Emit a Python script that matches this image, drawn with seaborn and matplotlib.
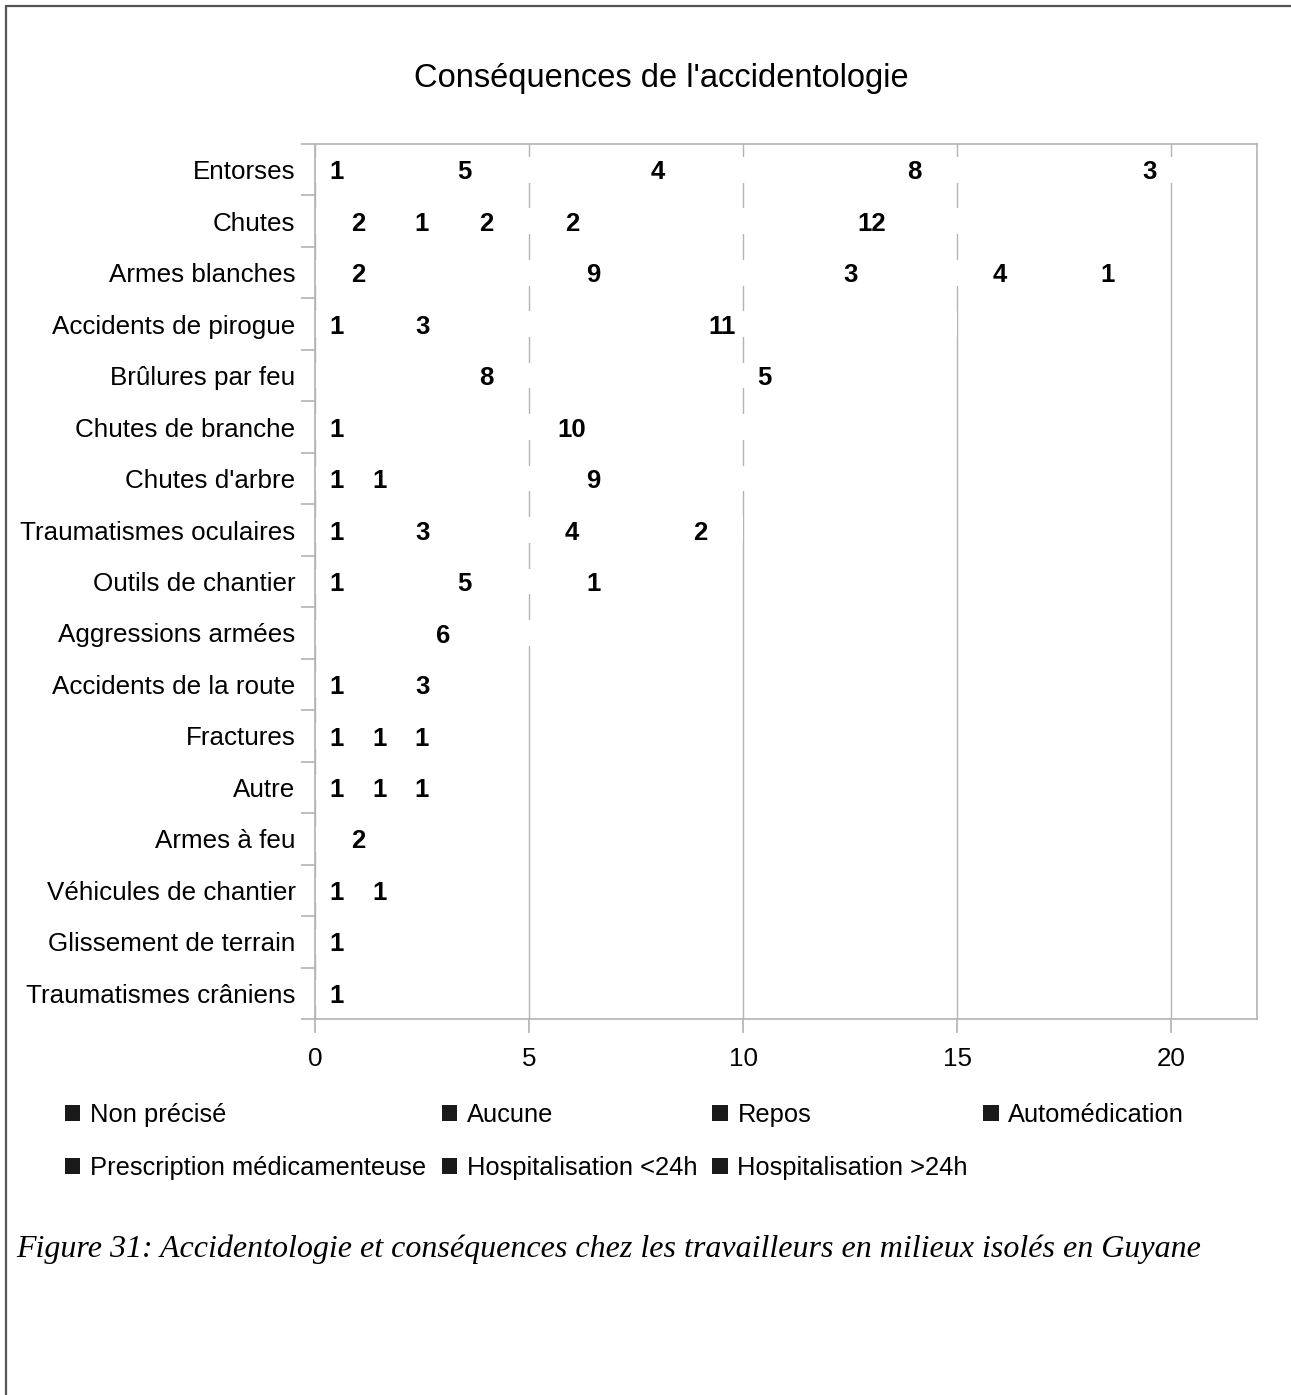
import numpy as np
import pandas as pd
import matplotlib.pyplot as plt
from matplotlib.lines import Line2D
from matplotlib.patches import Patch
import seaborn as sns

sns.set_theme(style="white")
plt.rcParams['font.family'] = ['Liberation Sans', 'DejaVu Sans']
plt.rcParams['text.color'] = 'black'
plt.rcParams['xtick.color'] = 'black'
plt.rcParams['ytick.color'] = 'black'

# categories (top to bottom)
categories = ["Entorses", "Chutes", "Armes blanches", "Accidents de pirogue",
              "Brûlures par feu", "Chutes de branche", "Chutes d'arbre",
              "Traumatismes oculaires", "Outils de chantier", "Aggressions armées",
              "Accidents de la route", "Fractures", "Autre", "Armes à feu",
              "Véhicules de chantier", "Glissement de terrain",
              "Traumatismes crâniens"]

series_names = ["Non précisé", "Aucune", "Repos", "Automédication",
                "Prescription médicamenteuse", "Hospitalisation <24h",
                "Hospitalisation >24h"]

non_precise = [1, 2, 2, 1, 0, 1, 1, 1, 1, 0, 1, 1, 1, 0, 1, 1, 0]
aucune      = [5, 1, 0, 3, 0, 0, 1, 3, 0, 0, 0, 0, 1, 0, 0, 0, 0]
repos       = [4, 2, 9, 11, 8, 10, 9, 4, 5, 6, 3, 1, 1, 0, 1, 0, 0]
automedic   = [8, 2, 3, 0, 5, 0, 0, 2, 1, 0, 0, 0, 0, 0, 0, 0, 0]
prescript   = [3, 12, 4, 0, 0, 0, 0, 0, 0, 0, 0, 0, 0, 0, 0, 0, 0]
hosp_moins  = [0, 0, 1, 0, 0, 0, 0, 0, 0, 0, 0, 1, 0, 0, 0, 0, 0]
hosp_plus   = [0, 0, 0, 0, 0, 0, 0, 0, 0, 0, 0, 0, 0, 2, 0, 0, 1]

x_ticks = [0, 5, 10, 15, 20]

values = np.array([non_precise, aucune, repos, automedic, prescript,
                   hosp_moins, hosp_plus]).T
cum = values.cumsum(axis=1)
left = cum - values

fig = plt.figure(figsize=(12.91, 13.95), dpi=100)
ax = fig.add_axes([0.244, 0.2695, 0.7297, 0.6273])

# stacked bars: draw cumulative totals from the longest down
for k in range(len(series_names) - 1, -1, -1):
    df = pd.DataFrame({"cat": categories, "val": cum[:, k]})
    sns.barplot(data=df, x="val", y="cat", color="white", saturation=1,
                width=0.5, linewidth=0, orient="y", ax=ax)

# value labels centred in segments
for i in range(len(categories)):
    for k in range(len(series_names)):
        v = values[i, k]
        if v > 0:
            ax.text(left[i, k] + v / 2, i + 0.05, str(v), ha="center",
                    va="center", fontsize=18.5, fontweight="bold",
                    color="black", zorder=5)

grey = "#b3b3b3"
ax.set_xlim(0, 22)
ax.set_ylim(len(categories) - 0.5, -0.5)
ax.set_xticks(x_ticks)
ax.set_xticklabels([str(t) for t in x_ticks])
ax.xaxis.grid(True, color=grey, lw=1)
ax.yaxis.grid(False)
ax.set_axisbelow(True)
ax.set_xlabel("")
ax.set_ylabel("")
for s in ax.spines.values():
    s.set_color(grey)
    s.set_linewidth(1.2)
    s.set_visible(True)
ax.tick_params(axis="x", which="major", length=10, width=1.2, color=grey,
               labelcolor="black", labelsize=18.7, pad=10, direction="out",
               bottom=True)
ax.tick_params(axis="y", which="major", length=0, labelsize=18.7,
               labelcolor="black", pad=14)
ax.set_yticks(np.arange(-0.5, len(categories)), minor=True)
ax.tick_params(axis="y", which="minor", length=10, width=1.2, color=grey,
               direction="out", left=True)

# title
fig.text(661 / 1291, 1 - 79 / 1395, "Conséquences de l'accidentologie",
         ha="center", va="center", fontsize=23.5, color="black")

# legend (column-major order to get row-wise reading)
order = [0, 4, 1, 5, 2, 6, 3]
handles = [Patch(facecolor="#1a1a1a", edgecolor="none") for _ in order]
labels = [series_names[j] for j in order]
fig.legend(handles, labels, ncol=4, loc="upper left",
           bbox_to_anchor=(65 / 1291, 1 - 1103 / 1395), frameon=False,
           fontsize=18.4, handlelength=0.6, handleheight=0.6,
           handletextpad=0.38, columnspacing=0.6, labelspacing=1.12,
           borderaxespad=0, borderpad=0)

# caption
fig.text(16 / 1291, 1 - 1249 / 1395,
         "Figure 31: Accidentologie et conséquences chez les travailleurs en milieux isolés en Guyane",
         ha="left", va="center", fontsize=23, style="italic", color="black",
         family=["Liberation Serif", "DejaVu Serif"])

# page frame
fig.add_artist(Line2D([6 / 1291, 6 / 1291], [0, 1 - 6 / 1395],
                      color="#555555", lw=1.6, transform=fig.transFigure))
fig.add_artist(Line2D([6 / 1291, 1], [1 - 6 / 1395, 1 - 6 / 1395],
                      color="#555555", lw=1.6, transform=fig.transFigure))

fig.savefig("out.png", dpi=100)
